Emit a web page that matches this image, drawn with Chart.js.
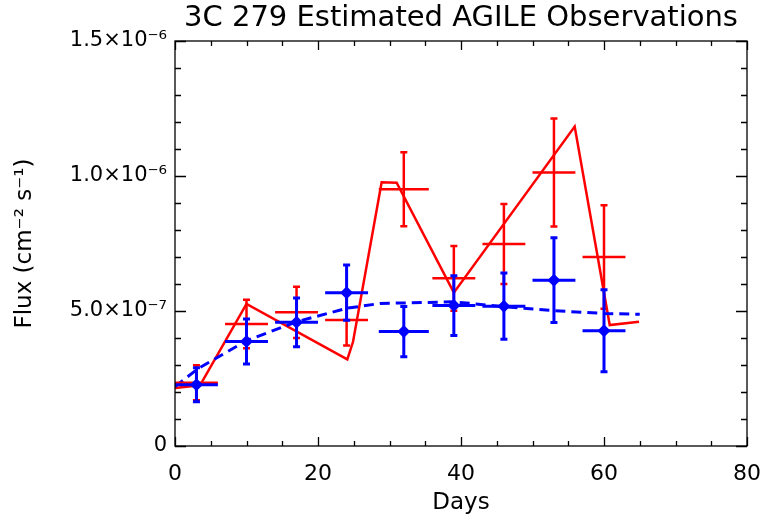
<!DOCTYPE html>
<html>
<head>
<meta charset="utf-8">
<script src="https://cdn.jsdelivr.net/npm/chart.js@4/dist/chart.umd.min.js"></script>
<style>
  html, body { margin: 0; padding: 0; background: #ffffff; }
  #wrap { width: 762px; height: 517px; }
</style>
</head>
<body>
<div id="wrap"><canvas id="c" width="762" height="517"></canvas></div>
<script>
// ---- data (flux in units of 1e-6 cm^-2 s^-1) ----
const obsDays      = [3, 10, 17, 24, 32, 39, 46, 53, 60];
const obsDayErr    = [3, 3, 3, 3, 3.5, 3, 3, 3, 3];
const redFlux      = [0.234, 0.452, 0.495, 0.467, 0.951, 0.621, 0.748, 1.013, 0.700];
const redErr       = [0.065, 0.090, 0.095, 0.095, 0.137, 0.120, 0.148, 0.200, 0.192];
const blueFlux     = [0.227, 0.387, 0.458, 0.568, 0.424, 0.520, 0.518, 0.614, 0.427];
const blueErr      = [0.063, 0.083, 0.090, 0.102, 0.093, 0.111, 0.123, 0.157, 0.152];
const redModelDays = [0, 3.5, 10, 24.1, 24.9, 28.9, 31, 39, 55.9, 60.8, 64.9];
const redModelFlux = [0.215, 0.225, 0.526, 0.321, 0.386, 0.977, 0.975, 0.568, 1.183, 0.448, 0.460];
const blueModelDays = [0, 3.3, 10, 17, 24, 28.7, 39, 46, 53, 60, 65];
const blueModelFlux = [0.220, 0.288, 0.390, 0.460, 0.510, 0.528, 0.534, 0.516, 0.501, 0.491, 0.488];
const xTickValues = [0, 20, 40, 60, 80];
const yTickLabels = ['0', '5.0\u00d710\u207b\u2077', '1.0\u00d710\u207b\u2076', '1.5\u00d710\u207b\u2076'];
const UNIT = 1e-6;

const RED = '#ff0000';
const BLUE = '#0000ff';
const FONT = "'DejaVu Sans', sans-serif";

const toXY = (xs, ys) => xs.map((x, i) => ({ x: x, y: ys[i] * UNIT }));

const errorBars = {
  id: 'errorBars',
  afterDatasetDraw(chart, args) {
    const ds = chart.data.datasets[args.index];
    if (!ds.errY) return;
    const xs = chart.scales.x, ys = chart.scales.y;
    const ctx = chart.ctx;
    ctx.save();
    ctx.strokeStyle = ds.errColor;
    ctx.lineWidth = ds.errWidth;
    ctx.lineCap = 'butt';
    ds.data.forEach((p, i) => {
      const px = xs.getPixelForValue(p.x);
      const py = ys.getPixelForValue(p.y);
      const x0 = xs.getPixelForValue(p.x - ds.errX[i]);
      const x1 = xs.getPixelForValue(p.x + ds.errX[i]);
      const y0 = ys.getPixelForValue(p.y - ds.errY[i] * UNIT);
      const y1 = ys.getPixelForValue(p.y + ds.errY[i] * UNIT);
      ctx.beginPath();
      ctx.moveTo(x0, py); ctx.lineTo(x1, py);
      ctx.moveTo(px, y0); ctx.lineTo(px, y1);
      ctx.moveTo(px - 3.5, y0); ctx.lineTo(px + 3.5, y0);
      ctx.moveTo(px - 3.5, y1); ctx.lineTo(px + 3.5, y1);
      ctx.stroke();
    });
    ctx.restore();
  }
};

const frameTicks = {
  id: 'frameTicks',
  afterDraw(chart) {
    const { ctx, chartArea: a } = chart;
    const xs = chart.scales.x, ys = chart.scales.y;
    ctx.save();
    ctx.strokeStyle = '#000';
    ctx.lineWidth = 1.3;
    ctx.strokeRect(a.left, a.top, a.right - a.left, a.bottom - a.top);
    ctx.beginPath();
    for (let v = 0; v <= 80; v += 5) {
      const px = Math.round(xs.getPixelForValue(v)) + 0.5;
      const len = (v % 20 === 0) ? 9 : 5;
      ctx.moveTo(px, a.bottom); ctx.lineTo(px, a.bottom - len);
      ctx.moveTo(px, a.top); ctx.lineTo(px, a.top + len);
    }
    for (let k = 0; k <= 15; k++) {
      const py = Math.round(ys.getPixelForValue(k * 1e-7)) + 0.5;
      const len = (k % 5 === 0) ? 11 : 6;
      ctx.moveTo(a.left, py); ctx.lineTo(a.left + len, py);
      ctx.moveTo(a.right, py); ctx.lineTo(a.right - len, py);
    }
    ctx.stroke();
    ctx.restore();
  }
};

new Chart(document.getElementById('c'), {
  type: 'scatter',
  data: {
    datasets: [
      {
        type: 'line', label: 'Model (red)', data: toXY(redModelDays, redModelFlux),
        borderColor: RED, borderWidth: 2.5, pointRadius: 0, fill: false, tension: 0, order: 4
      },
      {
        type: 'line', label: 'Model (blue)', data: toXY(blueModelDays, blueModelFlux),
        borderColor: BLUE, borderWidth: 3, borderDash: [10, 6], pointRadius: 0, fill: false, tension: 0, order: 3
      },
      {
        label: 'Estimate (red)', data: toXY(obsDays, redFlux), showLine: false,
        pointRadius: 0, order: 2,
        errX: obsDayErr, errY: redErr, errColor: RED, errWidth: 2.5
      },
      {
        label: 'Estimate (blue)', data: toXY(obsDays, blueFlux), showLine: false,
        pointStyle: 'rectRot', pointRadius: 6.5, backgroundColor: BLUE, borderColor: BLUE, borderWidth: 0, order: 1,
        errX: obsDayErr, errY: blueErr, errColor: BLUE, errWidth: 3
      }
    ]
  },
  options: {
    responsive: false,
    animation: false,
    layout: { padding: { left: 0, right: 15, top: 0, bottom: 0 } },
    plugins: {
      legend: { display: false },
      tooltip: { enabled: false },
      title: {
        display: true,
        fullSize: false,
        text: '3C 279 Estimated AGILE Observations',
        color: '#000',
        font: { family: FONT, size: 29, weight: 'normal' },
        padding: { top: 1, bottom: 5.2 }
      }
    },
    scales: {
      x: {
        type: 'linear', min: 0, max: 80,
        afterFit: (s) => { s.height = 71; s.paddingLeft = 0; s.paddingRight = 0; },
        afterBuildTicks: (s) => { s.ticks = xTickValues.map(v => ({ value: v })); },
        grid: { display: false, drawTicks: false },
        border: { display: false },
        ticks: { color: '#000', font: { family: FONT, size: 22 }, padding: 15, maxRotation: 0 },
        title: { display: true, text: 'Days', color: '#000', font: { family: FONT, size: 23 }, padding: { top: 6, bottom: 0 } }
      },
      y: {
        type: 'linear', min: 0, max: 1.5e-6,
        afterFit: (s) => { s.width = 175; },
        afterBuildTicks: (s) => { s.ticks = yTickLabels.map((t, i) => ({ value: i * 5e-7 })); },
        grid: { display: false, drawTicks: false },
        border: { display: false },
        ticks: {
          color: '#000', font: { family: FONT, size: 21 }, padding: 8,
          callback: (v) => yTickLabels[Math.round(v / 5e-7)]
        },
        title: { display: true, text: 'Flux (cm\u207b\u00b2 s\u207b\u00b9)', color: '#000', font: { family: FONT, size: 23 }, padding: { top: 11, bottom: 0 } }
      }
    }
  },
  plugins: [errorBars, frameTicks]
});
</script>
</body>
</html>
